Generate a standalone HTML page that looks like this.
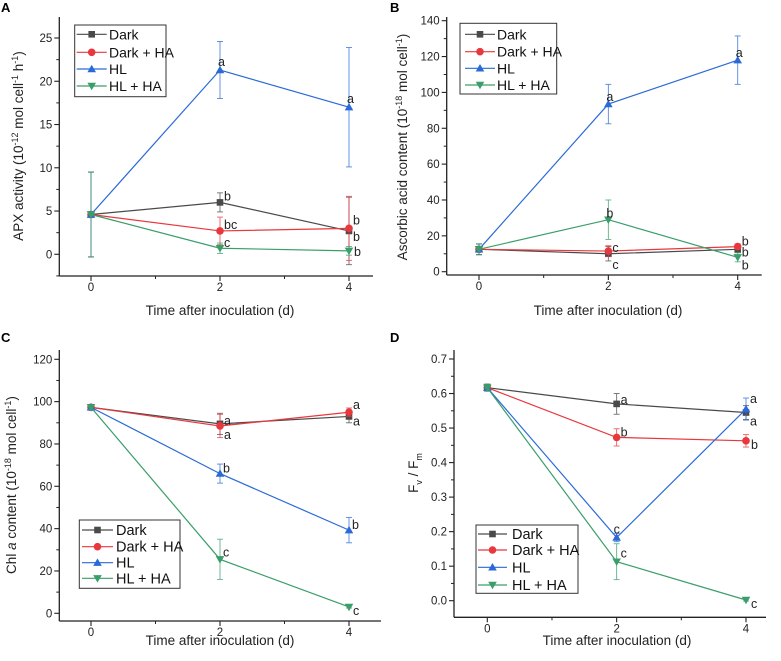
<!DOCTYPE html>
<html><head><meta charset="utf-8"><style>
html,body{margin:0;padding:0;background:#fff}
svg{display:block;font-family:"Liberation Sans",Arial,sans-serif}
</style></head><body>
<svg id="fig" width="781" height="661" viewBox="0 0 781 661"></svg>
<script>
const days=[0,2,4];
const seriesNames=["Dark","Dark + HA","HL","HL + HA"];
const colors=["#4a4a4a","#e8383d","#2a6ad8","#3a9e6a"];
// Panel A: APX
const aDark=[4.6,6.0,2.7], aDarkErr=[4.9,1.1,3.9];
const aDarkHA=[4.6,2.7,3.0], aDarkHAErr=[4.9,1.6,3.7];
const aHL=[4.6,21.3,17.0], aHLErr=[4.9,3.3,6.9];
const aHLHA=[4.6,0.7,0.4], aHLHAErr=[4.9,0.6,0.5];
const aTicks=[0,5,10,15,20,25];
const aLetters=[["","b","b"],["","bc","b"],["","a","a"],["","c","b"]];
// Panel B: ascorbic acid
const bDark=[12.5,10,12.5], bDarkErr=[3,4,1.5];
const bDarkHA=[12.5,11.5,14], bDarkHAErr=[3,3,1.5];
const bHL=[12.5,93.5,118], bHLErr=[3,11,13.5];
const bHLHA=[12.5,29,8], bHLHAErr=[3,11,2.5];
const bTicks=[0,20,40,60,80,100,120,140];
const bLetters=[["","c","b"],["","c","b"],["","a","a"],["","b","b"]];
// Panel C: Chl a
const cDark=[97.3,89.5,93], cDarkErr=[1,5,3];
const cDarkHA=[97.3,88.5,95], cDarkHAErr=[1,5.5,2];
const cHL=[97.3,66,39.3], cHLErr=[1,4.5,6];
const cHLHA=[97.3,25.5,3], cHLHAErr=[1,9.5,0.5];
const cTicks=[0,20,40,60,80,100,120];
const cLetters=[["","a","a"],["","a","a"],["","b","b"],["","c","c"]];
// Panel D: Fv/Fm
const dDark=[0.617,0.57,0.545], dDarkErr=[0.01,0.03,0.02];
const dDarkHA=[0.617,0.473,0.463], dDarkHAErr=[0.01,0.025,0.018];
const dHL=[0.617,0.183,0.555], dHLErr=[0.01,0.012,0.032];
const dHLHA=[0.617,0.113,0.002], dHLHAErr=[0.01,0.052,0.003];
const dTicks=[0,0.1,0.2,0.3,0.4,0.5,0.6,0.7];
const dLetters=[["","a","a"],["","b","b"],["","c","a"],["","c","c"]];
const xTicks=[0,2,4];

const NS="http://www.w3.org/2000/svg";
const svg=document.getElementById("fig");
function mk(tag,attrs,parent){const e=document.createElementNS(NS,tag);for(const k in attrs)e.setAttribute(k,attrs[k]);(parent||svg).appendChild(e);return e;}

const panels=[
 {id:"a",letter:"A",lx:1,ly:12,ax:59.3,top:17,bot:276,right:373,x0:91,x4:349,y0v:0,y0p:254.3,y1v:25,y1p:38,ticks:aTicks,minor:2.5,dec:0,
  vals:[aDark,aDarkHA,aHL,aHLHA],errs:[aDarkErr,aDarkHAErr,aHLErr,aHLHAErr],letters:aLetters,
  letOff:[[null,[4,-6],[4,6]],[null,[4,-6],[4,-8]],[null,[-2,-8],[-2,-8]],[null,[4,-5],[5,1]]],
  leg:{x:74.7,y:25,w:91.3,h:71.7,rows:[34.3,52.3,69,86],l1:76.7,l2:106.7,tx:109,fs:14},
  ylab:{x:23,y:146},xlab:{x:220,y:315}},
 {id:"b",letter:"B",lx:390,ly:12,ax:446.7,top:17,bot:275,right:761.7,x0:479,x4:737.7,y0v:0,y0p:271.7,y1v:140,y1p:20.7,ticks:bTicks,minor:10,dec:0,
  vals:[bDark,bDarkHA,bHL,bHLHA],errs:[bDarkErr,bDarkHAErr,bHLErr,bHLHAErr],letters:bLetters,
  letOff:[[null,[4,11],[4,3]],[null,[4,-3],[4,-5]],[null,[-2,-7],[-2,-7]],[null,[-2,-6],[4,8]]],
  leg:{x:460,y:23.3,w:96.7,h:70.7,rows:[34.3,51.7,68.3,85],l1:465,l2:495,tx:497,fs:14},
  ylab:{x:407,y:147},xlab:{x:608,y:315}},
 {id:"c",letter:"C",lx:1,ly:342,ax:59.3,top:350,bot:621,right:381,x0:91,x4:349,y0v:0,y0p:613.3,y1v:120,y1p:359.3,ticks:cTicks,minor:10,dec:0,
  vals:[cDark,cDarkHA,cHL,cHLHA],errs:[cDarkErr,cDarkHAErr,cHLErr,cHLHAErr],letters:cLetters,
  letOff:[[null,[4,-3],[4,5]],[null,[4,9],[4,-7]],[null,[3,-5],[3,-5]],[null,[3,-7],[4,4]]],
  leg:{x:79.3,y:520,w:100.7,h:68.3,rows:[530,546.7,562.7,578.3],l1:82,l2:113,tx:116,fs:14.5},
  ylab:{x:16,y:485},xlab:{x:220,y:645}},
 {id:"d",letter:"D",lx:390,ly:342,ax:454,top:350,bot:617.3,right:766,x0:487.3,x4:746,y0v:0,y0p:600.7,y1v:0.7,y1p:359,ticks:dTicks,minor:0.05,dec:1,
  vals:[dDark,dDarkHA,dHL,dHLHA],errs:[dDarkErr,dDarkHAErr,dHLErr,dHLHAErr],letters:dLetters,
  letOff:[[null,[4,-4],[4,9]],[null,[4,-5],[5,4]],[null,[-3,-8],[4,-10]],[null,[4,-8],[5,4]]],
  leg:{x:476,y:525,w:102,h:68.3,rows:[534,550,567.3,585],l1:478,l2:507,tx:512,fs:14.5},
  ylab:{x:418,y:473},xlab:{x:617,y:645}}
];

function marker(g,i,x,y,c){
  let m;
  if(i===0)m=mk("rect",{x:x-3.3,y:y-3.3,width:6.6,height:6.6,fill:c},g);
  else if(i===1)m=mk("circle",{cx:x,cy:y,r:3.8,fill:c},g);
  else if(i===2)m=mk("polygon",{points:`${x},${y-4.3} ${x-4.3},${y+3.2} ${x+4.3},${y+3.2}`,fill:c},g);
  else m=mk("polygon",{points:`${x},${y+4.3} ${x-4.3},${y-3.2} ${x+4.3},${y-3.2}`,fill:c},g);
  return m;
}

panels.forEach(p=>{
  const g=mk("g",{});
  
  
  const xs=d=>p.x0+(p.x4-p.x0)*d/4;
  const ys=v=>p.y0p+(p.y1p-p.y0p)*(v-p.y0v)/(p.y1v-p.y0v);
  const pl=mk("text",{x:p.lx,y:p.ly,"font-size":13,"font-weight":"bold",fill:"#000"},g);
  pl.textContent=p.letter;
  
  
  const ax=mk("g",{},g);
  
  
  mk("line",{x1:p.ax,y1:p.top,x2:p.ax,y2:p.bot,stroke:"#222","stroke-width":1.3},ax);
  mk("line",{x1:p.ax,y1:p.bot,x2:p.right,y2:p.bot,stroke:"#222","stroke-width":1.3},ax);
  xTicks.forEach(t=>{
    const x=xs(t);
    mk("line",{x1:x,y1:p.bot,x2:x,y2:p.bot+5,stroke:"#222","stroke-width":1.1},ax);
    const tl=mk("text",{x:x,y:p.bot+15,"font-size":11.5,"text-anchor":"middle",fill:"#222"},ax);
    tl.textContent=t;
    
    
  });
  [1,3].forEach(t=>mk("line",{x1:xs(t),y1:p.bot,x2:xs(t),y2:p.bot+3,stroke:"#222","stroke-width":1},ax));
  p.ticks.forEach((t,k)=>{
    const y=ys(t);
    mk("line",{x1:p.ax-5,y1:y,x2:p.ax,y2:y,stroke:"#222","stroke-width":1.1},ax);
    const tl=mk("text",{x:p.ax-7,y:y+4,"font-size":11.5,"text-anchor":"end",fill:"#222"},ax);
    tl.textContent=t.toFixed(p.dec);
    
    
    const my=ys(t+p.minor);
    if(my>p.top) mk("line",{x1:p.ax-3,y1:my,x2:p.ax,y2:my,stroke:"#222","stroke-width":1},ax);
  });
  const bm=ys(p.ticks[0]-p.minor); if(bm<p.bot) mk("line",{x1:p.ax-3,y1:bm,x2:p.ax,y2:bm,stroke:"#222","stroke-width":1},ax);
  const xt=mk("text",{x:p.xlab.x,y:p.xlab.y,"font-size":13.5,"text-anchor":"middle",fill:"#222"},g);
  xt.textContent="Time after inoculation (d)";
  
  
  const yt=mk("text",{x:0,y:0,"font-size":13.5,"text-anchor":"middle",fill:"#222",transform:`translate(${p.ylab.x},${p.ylab.y}) rotate(-90)`},g);
  
  
  const sup=s=>`<tspan font-size="9" dy="-5">${s}</tspan><tspan dy="5">`;
  const sub=s=>`<tspan font-size="9" dy="4">${s}</tspan><tspan dy="-4">`;
  if(p.id==="a") yt.innerHTML=`APX activity (10${sup("-12")} mol cell${sup("-1")} h${sup("-1")})</tspan></tspan></tspan>`;
  if(p.id==="b") yt.innerHTML=`Ascorbic acid content (10${sup("-18")} mol cell${sup("-1")})</tspan></tspan>`;
  if(p.id==="c") yt.innerHTML=`Chl <tspan font-style="italic">a</tspan> content (10${sup("-18")} mol cell${sup("-1")})</tspan></tspan>`;
  if(p.id==="d") yt.innerHTML=`F${sub("v")} / F${sub("m")}</tspan></tspan>`;
  p.vals.forEach((vals,i)=>{
    const sg=mk("g",{},g);
    
    
    const c=colors[i];
    mk("polyline",{points:vals.map((v,k)=>xs(days[k])+","+ys(v)).join(" "),fill:"none",stroke:c,"stroke-width":1.2},sg);
    vals.forEach((v,k)=>{
      const x=xs(days[k]),e=p.errs[i][k];
      const eb=mk("g",{stroke:c,"stroke-width":0.9,opacity:0.8},sg);
      
      
      mk("line",{x1:x,y1:ys(v-e),x2:x,y2:ys(v+e)},eb);
      mk("line",{x1:x-3,y1:ys(v-e),x2:x+3,y2:ys(v-e)},eb);
      mk("line",{x1:x-3,y1:ys(v+e),x2:x+3,y2:ys(v+e)},eb);
    });
    vals.forEach((v,k)=>{
      const m=marker(sg,i,xs(days[k]),ys(v),c);
      
      
      const L=p.letters[i][k];
      if(L){
        const o=p.letOff[i][k];
        const t=mk("text",{x:xs(days[k])+o[0],y:ys(v)+o[1]+4,"font-size":12.5,fill:"#222"},sg);
        t.textContent=L;
        
        
      }
    });
  });
  const L=p.leg;
  const lg=mk("g",{},g);
  
  
  mk("rect",{x:L.x,y:L.y,width:L.w,height:L.h,fill:"#fff",stroke:"#333","stroke-width":1},lg);
  seriesNames.forEach((n,i)=>{
    const eg=mk("g",{},lg);
    
    
    const y=L.rows[i];
    mk("line",{x1:L.l1,y1:y,x2:L.l2,y2:y,stroke:colors[i],"stroke-width":1.2},eg);
    marker(eg,i,(L.l1+L.l2)/2,y,colors[i]);
    const t=mk("text",{x:L.tx,y:y+5,"font-size":L.fs,fill:"#111"},eg);
    t.textContent=n;
  });
});
</script>
</body></html>
